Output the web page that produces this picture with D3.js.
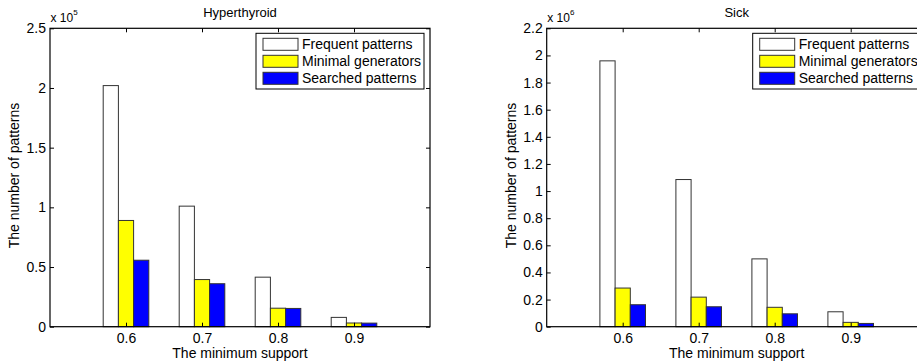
<!DOCTYPE html>
<html>
<head>
<meta charset="utf-8">
<script src="https://cdn.jsdelivr.net/npm/d3@7"></script>
<style>
body { margin:0; background:#fff; }
text { font-family: "Liberation Sans", Arial, sans-serif; fill:#000; }
</style>
</head>
<body>
<div id="chart"></div>
<script>
var supports = [0.6, 0.7, 0.8, 0.9];
var seriesNames = ["Frequent patterns", "Minimal generators", "Searched patterns"];
var seriesColors = ["#ffffff", "#ffff00", "#0000ff"];

// Hyperthyroid, units of 1e5
var hyperFrequent = [2.02, 1.01, 0.415, 0.078];
var hyperMinimal  = [0.89, 0.395, 0.155, 0.031];
var hyperSearched = [0.557, 0.36, 0.153, 0.03];
var hyperTicks = [0, 0.5, 1, 1.5, 2, 2.5];

// Sick, units of 1e6
var sickFrequent = [1.96, 1.085, 0.5, 0.11];
var sickMinimal  = [0.285, 0.218, 0.143, 0.032];
var sickSearched = [0.162, 0.147, 0.095, 0.024];
var sickTicks = [0, 0.2, 0.4, 0.6, 0.8, 1, 1.2, 1.4, 1.6, 1.8, 2, 2.2];

var svg = d3.select("#chart").append("svg")
  .attr("width", 917)
  .attr("height", 364);

function drawPanel(opts) {
  var left = opts.left, top = 28.3, w = 380, h = 298.4;
  var g = svg.append("g").attr("transform", "translate(" + left + "," + top + ")");

  var x = d3.scaleLinear().domain([0.5, 1.0]).range([0, w]);
  var y = d3.scaleLinear().domain([0, opts.ymax]).range([h, 0]);

  var step = x(0.7) - x(0.6);
  var bw = step * 0.2;
  var series = [opts.frequent, opts.minimal, opts.searched];

  series.forEach(function(vals, si) {
    g.selectAll(".bar" + si)
      .data(vals)
      .enter().append("rect")
      .attr("x", function(d, i) { return x(supports[i]) + (si - 1.5) * bw; })
      .attr("y", function(d) { return y(d); })
      .attr("width", bw)
      .attr("height", function(d) { return h - y(d); })
      .attr("fill", seriesColors[si])
      .attr("stroke", "#333")
      .attr("stroke-width", 1);
  });

  // axes, ticks inside
  var fmt = function(d) { return String(+d.toFixed(1)); };
  var yAxis = g.append("g").call(d3.axisLeft(y).tickValues(opts.ticks).tickSize(-4).tickPadding(4).tickFormat(fmt));
  var yAxisR = g.append("g").attr("transform", "translate(" + w + ",0)")
    .call(d3.axisRight(y).tickValues(opts.ticks).tickSize(-4).tickFormat(""));
  var xAxis = g.append("g").attr("transform", "translate(0," + h + ")")
    .call(d3.axisBottom(x).tickValues(supports).tickSize(-4).tickPadding(6).tickFormat(d3.format(".1f")));
  var xAxisT = g.append("g")
    .call(d3.axisTop(x).tickValues(supports).tickSize(-4).tickFormat(""));

  [yAxis, yAxisR, xAxis, xAxisT].forEach(function(a) {
    a.selectAll(".domain").remove();
    a.selectAll("line").attr("stroke", "#000");
    a.selectAll("text").attr("font-size", "14px").attr("font-family", "Liberation Sans, Arial, sans-serif");
  });

  g.append("rect")
    .attr("x", 0).attr("y", 0).attr("width", w).attr("height", h)
    .attr("fill", "none").attr("stroke", "#000").attr("stroke-width", 1.2);

  // exponent label
  var ex = g.append("text").attr("x", 0.5).attr("y", -6.5).attr("font-size", "12px");
  ex.append("tspan").text("x 10");
  ex.append("tspan").attr("dy", -7).attr("font-size", "8px").text(opts.exp);

  // title
  g.append("text").attr("x", w / 2).attr("y", -11)
    .attr("text-anchor", "middle").attr("font-size", "13px").text(opts.title);

  // axis labels
  g.append("text").attr("x", w / 2).attr("y", h + 31)
    .attr("text-anchor", "middle").attr("font-size", "14px").text("The minimum support");
  g.append("text")
    .attr("transform", "translate(" + (-left + opts.ylabX) + "," + (h / 2 - 2) + ") rotate(-90)")
    .attr("text-anchor", "middle").attr("font-size", "14px").text("The number of patterns");

  // legend
  var lx = opts.legendX - left, ly = 33.3 - top;
  var lg = g.append("g").attr("transform", "translate(" + lx + "," + ly + ")");
  lg.append("rect").attr("width", 168).attr("height", 55.7)
    .attr("fill", "#fff").attr("stroke", "#000").attr("stroke-width", 1);
  seriesNames.forEach(function(name, i) {
    lg.append("rect")
      .attr("x", 7).attr("y", 5 + i * 17).attr("width", 35).attr("height", 12)
      .attr("fill", seriesColors[i]).attr("stroke", "#333").attr("stroke-width", 1);
    lg.append("text")
      .attr("x", 46).attr("y", 16 + i * 17).attr("font-size", "14px").text(name);
  });
}

drawPanel({
  left: 50, ymax: 2.5, ticks: hyperTicks, exp: "5", title: "Hyperthyroid",
  frequent: hyperFrequent, minimal: hyperMinimal, searched: hyperSearched,
  ylabX: 19, legendX: 256
});

drawPanel({
  left: 546.7, ymax: 2.2, ticks: sickTicks, exp: "6", title: "Sick",
  frequent: sickFrequent, minimal: sickMinimal, searched: sickSearched,
  ylabX: 515.5, legendX: 752.7
});
</script>
</body>
</html>
